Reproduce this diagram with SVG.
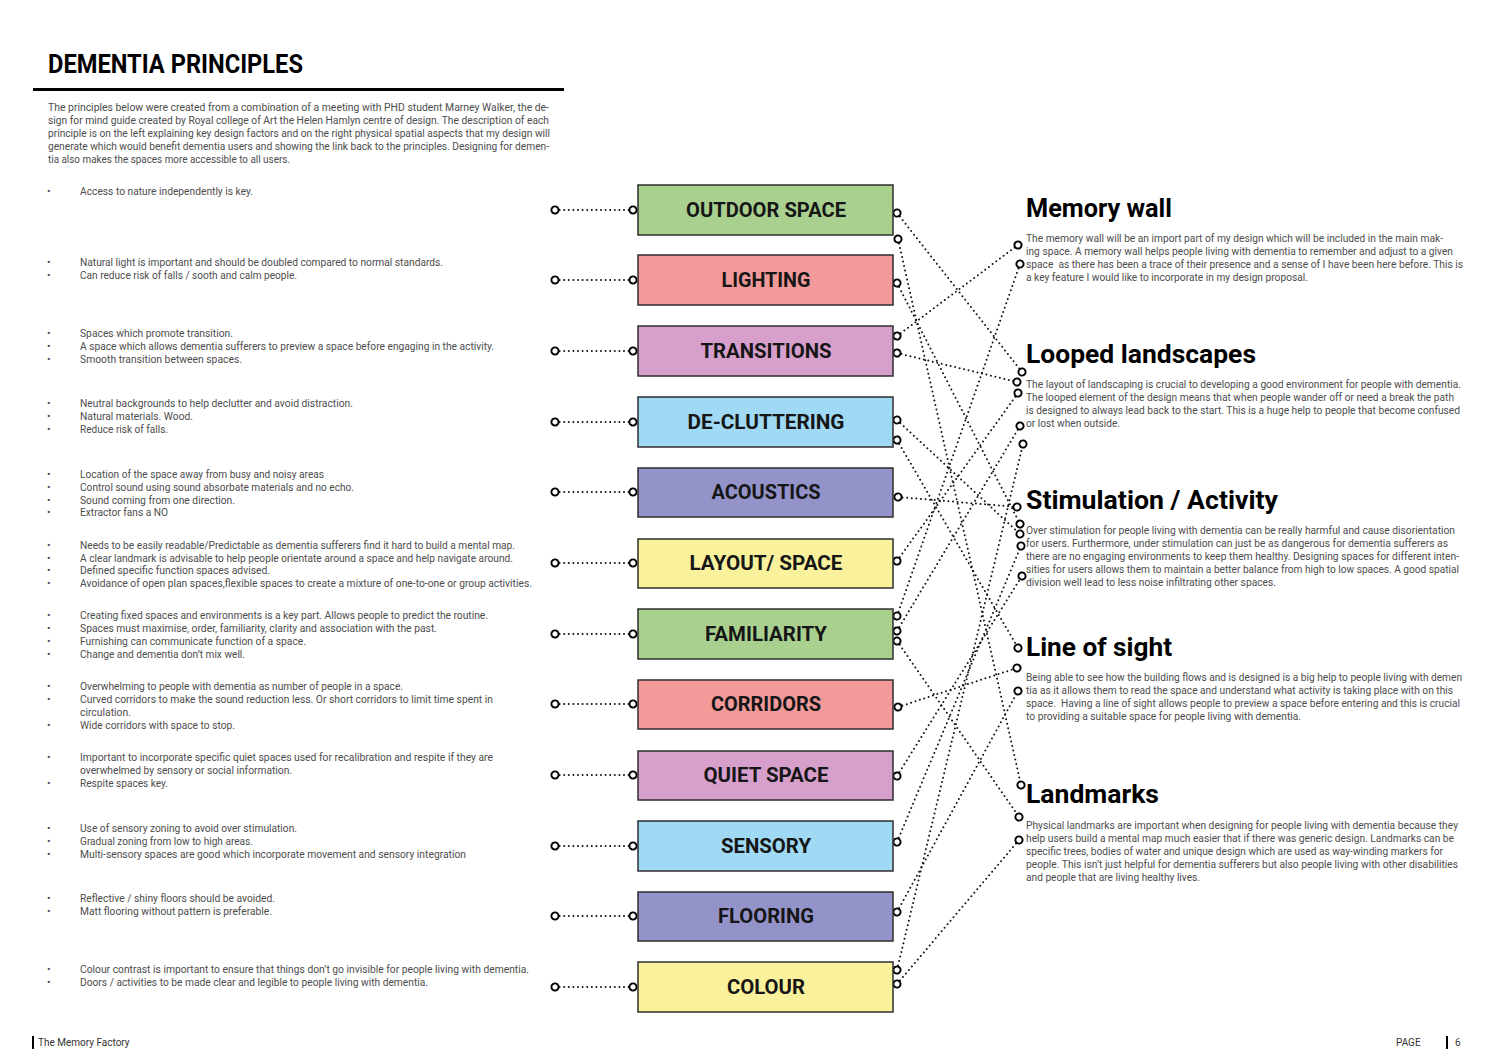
<svg xmlns="http://www.w3.org/2000/svg" width="1500" height="1061" viewBox="0 0 1500 1061">
<defs>
<style>
.t{font-family:Roboto,"Liberation Sans",sans-serif;font-size:10.5px;fill:#4d4d4d}
.b{font-family:Roboto,"Liberation Sans",sans-serif;font-size:10.5px;fill:#4d4d4d}
.h{font-family:Roboto,"Liberation Sans",sans-serif;font-size:26px;font-weight:700;fill:#000}
.title{font-family:Roboto,"Liberation Sans",sans-serif;font-size:25px;font-weight:700;fill:#000}
.lbl{font-family:Roboto,"Liberation Sans",sans-serif;font-size:20px;font-weight:700;fill:#161616;text-anchor:middle}
.box{stroke:#2e2e2e;stroke-width:1.5}
.dot{fill:none;stroke:#111;stroke-width:2;stroke-dasharray:0 4.6;stroke-linecap:round}
.foot{font-family:Roboto,"Liberation Sans",sans-serif;font-size:10px;fill:#333}
.green{fill:#a9d08e}.red{fill:#f2999a}.pink{fill:#d79fcb}.blue{fill:#9fd9f4}.purple{fill:#9393c9}.yellow{fill:#f9f19b}
</style>
<marker id="o" viewBox="-6 -6 12 12" markerWidth="12" markerHeight="12" refX="0" refY="0" markerUnits="userSpaceOnUse" orient="auto">
<circle cx="0" cy="0" r="3.6" fill="#fff" stroke="#000" stroke-width="1.9" stroke-dasharray="none"/>
</marker>
</defs>
<rect width="1500" height="1061" fill="#fff"/>

<g id="header">
<text class="title" x="48" y="73" textLength="255" lengthAdjust="spacingAndGlyphs">DEMENTIA PRINCIPLES</text>
<rect x="33" y="88" width="531" height="3" fill="#000"/>
<text class="t" x="48" y="111" textLength="501" lengthAdjust="spacingAndGlyphs">The principles below were created from a combination of a meeting with PHD student Marney Walker, the de-</text>
<text class="t" x="48" y="124" textLength="501" lengthAdjust="spacingAndGlyphs">sign for mind guide created by Royal college of Art the Helen Hamlyn centre of design. The description of each</text>
<text class="t" x="48" y="137" textLength="502" lengthAdjust="spacingAndGlyphs">principle is on the left explaining key design factors and on the right physical spatial aspects that my design will</text>
<text class="t" x="48" y="150" textLength="501" lengthAdjust="spacingAndGlyphs">generate which would benefit dementia users and showing the link back to the principles. Designing for demen-</text>
<text class="t" x="48" y="163" textLength="242" lengthAdjust="spacingAndGlyphs">tia also makes the spaces more accessible to all users.</text>
</g>

<g id="descriptions">
<g id="desc-outdoor"><text class="b" x="47" y="195">•</text><text class="b" x="80" y="195" textLength="173" lengthAdjust="spacingAndGlyphs">Access to nature independently is key.</text></g>
<g id="desc-lighting">
<text class="b" x="47" y="266">•</text><text class="b" x="80" y="266" textLength="363" lengthAdjust="spacingAndGlyphs">Natural light is important and should be doubled compared to normal standards.</text>
<text class="b" x="47" y="279">•</text><text class="b" x="80" y="279" textLength="217" lengthAdjust="spacingAndGlyphs">Can reduce risk of falls / sooth and calm people.</text></g>
<g id="desc-transitions">
<text class="b" x="47" y="337">•</text><text class="b" x="80" y="337" textLength="153" lengthAdjust="spacingAndGlyphs">Spaces which promote transition.</text>
<text class="b" x="47" y="350">•</text><text class="b" x="80" y="350" textLength="414" lengthAdjust="spacingAndGlyphs">A space which allows dementia sufferers to preview a space before engaging in the activity.</text>
<text class="b" x="47" y="363">•</text><text class="b" x="80" y="363" textLength="162" lengthAdjust="spacingAndGlyphs">Smooth transition between spaces.</text></g>
<g id="desc-decluttering">
<text class="b" x="47" y="407">•</text><text class="b" x="80" y="407" textLength="273" lengthAdjust="spacingAndGlyphs">Neutral backgrounds to help declutter and avoid distraction.</text>
<text class="b" x="47" y="420">•</text><text class="b" x="80" y="420" textLength="113" lengthAdjust="spacingAndGlyphs">Natural materials. Wood.</text>
<text class="b" x="47" y="433">•</text><text class="b" x="80" y="433" textLength="88" lengthAdjust="spacingAndGlyphs">Reduce risk of falls.</text></g>
<g id="desc-acoustics">
<text class="b" x="47" y="478">•</text><text class="b" x="80" y="478" textLength="244" lengthAdjust="spacingAndGlyphs">Location of the space away from busy and noisy areas</text>
<text class="b" x="47" y="491">•</text><text class="b" x="80" y="491" textLength="274" lengthAdjust="spacingAndGlyphs">Control sound using sound absorbate materials and no echo.</text>
<text class="b" x="47" y="504">•</text><text class="b" x="80" y="504" textLength="155" lengthAdjust="spacingAndGlyphs">Sound coming from one direction.</text>
<text class="b" x="47" y="516">•</text><text class="b" x="80" y="516" textLength="88" lengthAdjust="spacingAndGlyphs">Extractor fans a NO</text></g>
<g id="desc-layout">
<text class="b" x="47" y="549">•</text><text class="b" x="80" y="549" textLength="435" lengthAdjust="spacingAndGlyphs">Needs to be easily readable/Predictable as dementia sufferers find it hard to build a mental map.</text>
<text class="b" x="47" y="562">•</text><text class="b" x="80" y="562" textLength="433" lengthAdjust="spacingAndGlyphs">A clear landmark is advisable to help people orientate around a space and help navigate around.</text>
<text class="b" x="47" y="574">•</text><text class="b" x="80" y="574" textLength="190" lengthAdjust="spacingAndGlyphs">Defined specific function spaces advised.</text>
<text class="b" x="47" y="587">•</text><text class="b" x="80" y="587" textLength="452" lengthAdjust="spacingAndGlyphs">Avoidance of open plan spaces,flexible spaces to create a mixture of one-to-one or group activities.</text></g>
<g id="desc-familiarity">
<text class="b" x="47" y="619">•</text><text class="b" x="80" y="619" textLength="408" lengthAdjust="spacingAndGlyphs">Creating fixed spaces and environments is a key part. Allows people to predict the routine.</text>
<text class="b" x="47" y="632">•</text><text class="b" x="80" y="632" textLength="357" lengthAdjust="spacingAndGlyphs">Spaces must maximise, order, familiarity, clarity and association with the past.</text>
<text class="b" x="47" y="645">•</text><text class="b" x="80" y="645" textLength="226" lengthAdjust="spacingAndGlyphs">Furnishing can communicate function of a space.</text>
<text class="b" x="47" y="658">•</text><text class="b" x="80" y="658" textLength="165" lengthAdjust="spacingAndGlyphs">Change and dementia don’t mix well.</text></g>
<g id="desc-corridors">
<text class="b" x="47" y="690">•</text><text class="b" x="80" y="690" textLength="323" lengthAdjust="spacingAndGlyphs">Overwhelming to people with dementia as number of people in a space.</text>
<text class="b" x="47" y="703">•</text><text class="b" x="80" y="703" textLength="413" lengthAdjust="spacingAndGlyphs">Curved corridors to make the sound reduction less. Or short corridors to limit time spent in</text>
<text class="b" x="80" y="716" textLength="51" lengthAdjust="spacingAndGlyphs">circulation.</text>
<text class="b" x="47" y="729">•</text><text class="b" x="80" y="729" textLength="155" lengthAdjust="spacingAndGlyphs">Wide corridors with space to stop.</text></g>
<g id="desc-quiet">
<text class="b" x="47" y="761">•</text><text class="b" x="80" y="761" textLength="413" lengthAdjust="spacingAndGlyphs">Important to incorporate specific quiet spaces used for recalibration and respite if they are</text>
<text class="b" x="80" y="774" textLength="212" lengthAdjust="spacingAndGlyphs">overwhelmed by sensory or social information.</text>
<text class="b" x="47" y="787">•</text><text class="b" x="80" y="787" textLength="88" lengthAdjust="spacingAndGlyphs">Respite spaces key.</text></g>
<g id="desc-sensory">
<text class="b" x="47" y="832">•</text><text class="b" x="80" y="832" textLength="217" lengthAdjust="spacingAndGlyphs">Use of sensory zoning to avoid over stimulation.</text>
<text class="b" x="47" y="845">•</text><text class="b" x="80" y="845" textLength="173" lengthAdjust="spacingAndGlyphs">Gradual zoning from low to high areas.</text>
<text class="b" x="47" y="858">•</text><text class="b" x="80" y="858" textLength="386" lengthAdjust="spacingAndGlyphs">Multi-sensory spaces are good which incorporate movement and sensory integration</text></g>
<g id="desc-flooring">
<text class="b" x="47" y="902">•</text><text class="b" x="80" y="902" textLength="195" lengthAdjust="spacingAndGlyphs">Reflective / shiny floors should be avoided.</text>
<text class="b" x="47" y="915">•</text><text class="b" x="80" y="915" textLength="192" lengthAdjust="spacingAndGlyphs">Matt flooring without pattern is preferable.</text></g>
<g id="desc-colour">
<text class="b" x="47" y="973">•</text><text class="b" x="80" y="973" textLength="449" lengthAdjust="spacingAndGlyphs">Colour contrast is important to ensure that things don’t go invisible for people living with dementia.</text>
<text class="b" x="47" y="986">•</text><text class="b" x="80" y="986" textLength="348" lengthAdjust="spacingAndGlyphs">Doors / activities to be made clear and legible to people living with dementia.</text></g>
</g>

<g id="connectors">
<path class="dot" d="M555 210H633" marker-start="url(#o)" marker-end="url(#o)"/>
<path class="dot" d="M555 280H633" marker-start="url(#o)" marker-end="url(#o)"/>
<path class="dot" d="M555 351H633" marker-start="url(#o)" marker-end="url(#o)"/>
<path class="dot" d="M555 422H633" marker-start="url(#o)" marker-end="url(#o)"/>
<path class="dot" d="M555 492H633" marker-start="url(#o)" marker-end="url(#o)"/>
<path class="dot" d="M555 563H633" marker-start="url(#o)" marker-end="url(#o)"/>
<path class="dot" d="M555 634H633" marker-start="url(#o)" marker-end="url(#o)"/>
<path class="dot" d="M555 704H633" marker-start="url(#o)" marker-end="url(#o)"/>
<path class="dot" d="M555 775H633" marker-start="url(#o)" marker-end="url(#o)"/>
<path class="dot" d="M555 846H633" marker-start="url(#o)" marker-end="url(#o)"/>
<path class="dot" d="M555 916H633" marker-start="url(#o)" marker-end="url(#o)"/>
<path class="dot" d="M555 987H633" marker-start="url(#o)" marker-end="url(#o)"/>

<path class="dot" d="M897 213L1022 372" marker-start="url(#o)" marker-end="url(#o)"/>
<path class="dot" d="M898 239L1021 785" marker-start="url(#o)" marker-end="url(#o)"/>
<path class="dot" d="M897 283L1020 524" marker-start="url(#o)" marker-end="url(#o)"/>
<path class="dot" d="M897 336L1018 245" marker-start="url(#o)" marker-end="url(#o)"/>
<path class="dot" d="M897 353L1017 382" marker-start="url(#o)" marker-end="url(#o)"/>
<path class="dot" d="M897 420L1020 534" marker-start="url(#o)" marker-end="url(#o)"/>
<path class="dot" d="M897 440L1018 648" marker-start="url(#o)" marker-end="url(#o)"/>
<path class="dot" d="M898 497L1017 507" marker-start="url(#o)" marker-end="url(#o)"/>
<path class="dot" d="M897 561L1018 393" marker-start="url(#o)" marker-end="url(#o)"/>
<path class="dot" d="M897 616L1020 264" marker-start="url(#o)" marker-end="url(#o)"/>
<path class="dot" d="M897 631L1020 426" marker-start="url(#o)" marker-end="url(#o)"/>
<path class="dot" d="M897 641L1019 817" marker-start="url(#o)" marker-end="url(#o)"/>
<path class="dot" d="M898 707L1017 668" marker-start="url(#o)" marker-end="url(#o)"/>
<path class="dot" d="M897 776L1022 576" marker-start="url(#o)" marker-end="url(#o)"/>
<path class="dot" d="M897 842L1021 546" marker-start="url(#o)" marker-end="url(#o)"/>
<path class="dot" d="M897 912L1018 691" marker-start="url(#o)" marker-end="url(#o)"/>
<path class="dot" d="M897 970L1023 444" marker-start="url(#o)" marker-end="url(#o)"/>
<path class="dot" d="M897 984L1019 840" marker-start="url(#o)" marker-end="url(#o)"/>
</g>

<g id="node-outdoor"><rect class="box green" x="638" y="185" width="255" height="50"/><text class="lbl" x="766" y="217" textLength="160" lengthAdjust="spacingAndGlyphs">OUTDOOR SPACE</text></g>
<g id="node-lighting"><rect class="box red" x="638" y="255" width="255" height="50"/><text class="lbl" x="766" y="287" textLength="89" lengthAdjust="spacingAndGlyphs">LIGHTING</text></g>
<g id="node-transitions"><rect class="box pink" x="638" y="326" width="255" height="50"/><text class="lbl" x="766" y="358" textLength="131" lengthAdjust="spacingAndGlyphs">TRANSITIONS</text></g>
<g id="node-decluttering"><rect class="box blue" x="638" y="397" width="255" height="50"/><text class="lbl" x="766" y="429" textLength="157" lengthAdjust="spacingAndGlyphs">DE-CLUTTERING</text></g>
<g id="node-acoustics"><rect class="box purple" x="638" y="468" width="255" height="49"/><text class="lbl" x="766" y="499" textLength="109" lengthAdjust="spacingAndGlyphs">ACOUSTICS</text></g>
<g id="node-layout"><rect class="box yellow" x="638" y="539" width="255" height="49"/><text class="lbl" x="766" y="570" textLength="153" lengthAdjust="spacingAndGlyphs">LAYOUT/ SPACE</text></g>
<g id="node-familiarity"><rect class="box green" x="638" y="609" width="255" height="50"/><text class="lbl" x="766" y="641" textLength="122" lengthAdjust="spacingAndGlyphs">FAMILIARITY</text></g>
<g id="node-corridors"><rect class="box red" x="638" y="680" width="255" height="49"/><text class="lbl" x="766" y="711" textLength="110" lengthAdjust="spacingAndGlyphs">CORRIDORS</text></g>
<g id="node-quiet"><rect class="box pink" x="638" y="751" width="255" height="49"/><text class="lbl" x="766" y="782" textLength="125" lengthAdjust="spacingAndGlyphs">QUIET SPACE</text></g>
<g id="node-sensory"><rect class="box blue" x="638" y="821" width="255" height="50"/><text class="lbl" x="766" y="853" textLength="90" lengthAdjust="spacingAndGlyphs">SENSORY</text></g>
<g id="node-flooring"><rect class="box purple" x="638" y="892" width="255" height="49"/><text class="lbl" x="766" y="923" textLength="96" lengthAdjust="spacingAndGlyphs">FLOORING</text></g>
<g id="node-colour"><rect class="box yellow" x="638" y="962" width="255" height="50"/><text class="lbl" x="766" y="994" textLength="78" lengthAdjust="spacingAndGlyphs">COLOUR</text></g>

<g id="aspect-memory-wall">
<text class="h" x="1026" y="217" textLength="146" lengthAdjust="spacingAndGlyphs">Memory wall</text>
<text class="t" x="1026" y="242" textLength="417" lengthAdjust="spacingAndGlyphs">The memory wall will be an import part of my design which will be included in the main mak-</text>
<text class="t" x="1026" y="255" textLength="427" lengthAdjust="spacingAndGlyphs">ing space. A memory wall helps people living with dementia to remember and adjust to a given</text>
<text class="t" x="1026" y="268" textLength="437" lengthAdjust="spacingAndGlyphs" style="white-space:pre">space  as there has been a trace of their presence and a sense of I have been here before. This is</text>
<text class="t" x="1026" y="281" textLength="282" lengthAdjust="spacingAndGlyphs">a key feature I would like to incorporate in my design proposal.</text>
</g>
<g id="aspect-looped-landscapes">
<text class="h" x="1026" y="363" textLength="230" lengthAdjust="spacingAndGlyphs">Looped landscapes</text>
<text class="t" x="1026" y="388" textLength="435" lengthAdjust="spacingAndGlyphs">The layout of landscaping is crucial to developing a good environment for people with dementia.</text>
<text class="t" x="1026" y="401" textLength="428" lengthAdjust="spacingAndGlyphs">The looped element of the design means that when people wander off or need a break the path</text>
<text class="t" x="1026" y="414" textLength="434" lengthAdjust="spacingAndGlyphs">is designed to always lead back to the start. This is a huge help to people that become confused</text>
<text class="t" x="1026" y="427" textLength="94" lengthAdjust="spacingAndGlyphs">or lost when outside.</text>
</g>
<g id="aspect-stimulation">
<text class="h" x="1026" y="509" textLength="252" lengthAdjust="spacingAndGlyphs">Stimulation / Activity</text>
<text class="t" x="1026" y="534" textLength="429" lengthAdjust="spacingAndGlyphs">Over stimulation for people living with dementia can be really harmful and cause disorientation</text>
<text class="t" x="1026" y="547" textLength="422" lengthAdjust="spacingAndGlyphs">for users. Furthermore, under stimulation can just be as dangerous for dementia sufferers as</text>
<text class="t" x="1026" y="560" textLength="433" lengthAdjust="spacingAndGlyphs">there are no engaging environments to keep them healthy. Designing spaces for different inten-</text>
<text class="t" x="1026" y="573" textLength="433" lengthAdjust="spacingAndGlyphs">sities for users allows them to maintain a better balance from high to low spaces. A good spatial</text>
<text class="t" x="1026" y="586" textLength="250" lengthAdjust="spacingAndGlyphs">division well lead to less noise infiltrating other spaces.</text>
</g>
<g id="aspect-line-of-sight">
<text class="h" x="1026" y="656" textLength="146" lengthAdjust="spacingAndGlyphs">Line of sight</text>
<text class="t" x="1026" y="681" textLength="436" lengthAdjust="spacingAndGlyphs">Being able to see how the building flows and is designed is a big help to people living with demen</text>
<text class="t" x="1026" y="694" textLength="427" lengthAdjust="spacingAndGlyphs">tia as it allows them to read the space and understand what activity is taking place with on this</text>
<text class="t" x="1026" y="707" textLength="434" lengthAdjust="spacingAndGlyphs" style="white-space:pre">space.  Having a line of sight allows people to preview a space before entering and this is crucial</text>
<text class="t" x="1026" y="720" textLength="275" lengthAdjust="spacingAndGlyphs">to providing a suitable space for people living with dementia.</text>
</g>
<g id="aspect-landmarks">
<text class="h" x="1026" y="803" textLength="133" lengthAdjust="spacingAndGlyphs">Landmarks</text>
<text class="t" x="1026" y="829" textLength="432" lengthAdjust="spacingAndGlyphs">Physical landmarks are important when designing for people living with dementia because they</text>
<text class="t" x="1026" y="842" textLength="428" lengthAdjust="spacingAndGlyphs">help users build a mental map much easier that if there was generic design. Landmarks can be</text>
<text class="t" x="1026" y="855" textLength="417" lengthAdjust="spacingAndGlyphs">specific trees, bodies of water and unique design which are used as way-winding markers for</text>
<text class="t" x="1026" y="868" textLength="432" lengthAdjust="spacingAndGlyphs">people. This isn’t just helpful for dementia sufferers but also people living with other disabilities</text>
<text class="t" x="1026" y="881" textLength="174" lengthAdjust="spacingAndGlyphs">and people that are living healthy lives.</text>
</g>

<g id="footer">
<rect x="32" y="1036" width="2" height="13" fill="#000"/>
<text class="foot" x="38" y="1046">The Memory Factory</text>
<text class="foot" x="1396" y="1046">PAGE</text>
<rect x="1446" y="1036" width="2" height="13" fill="#000"/>
<text class="foot" x="1455" y="1046">6</text>
</g>
</svg>
